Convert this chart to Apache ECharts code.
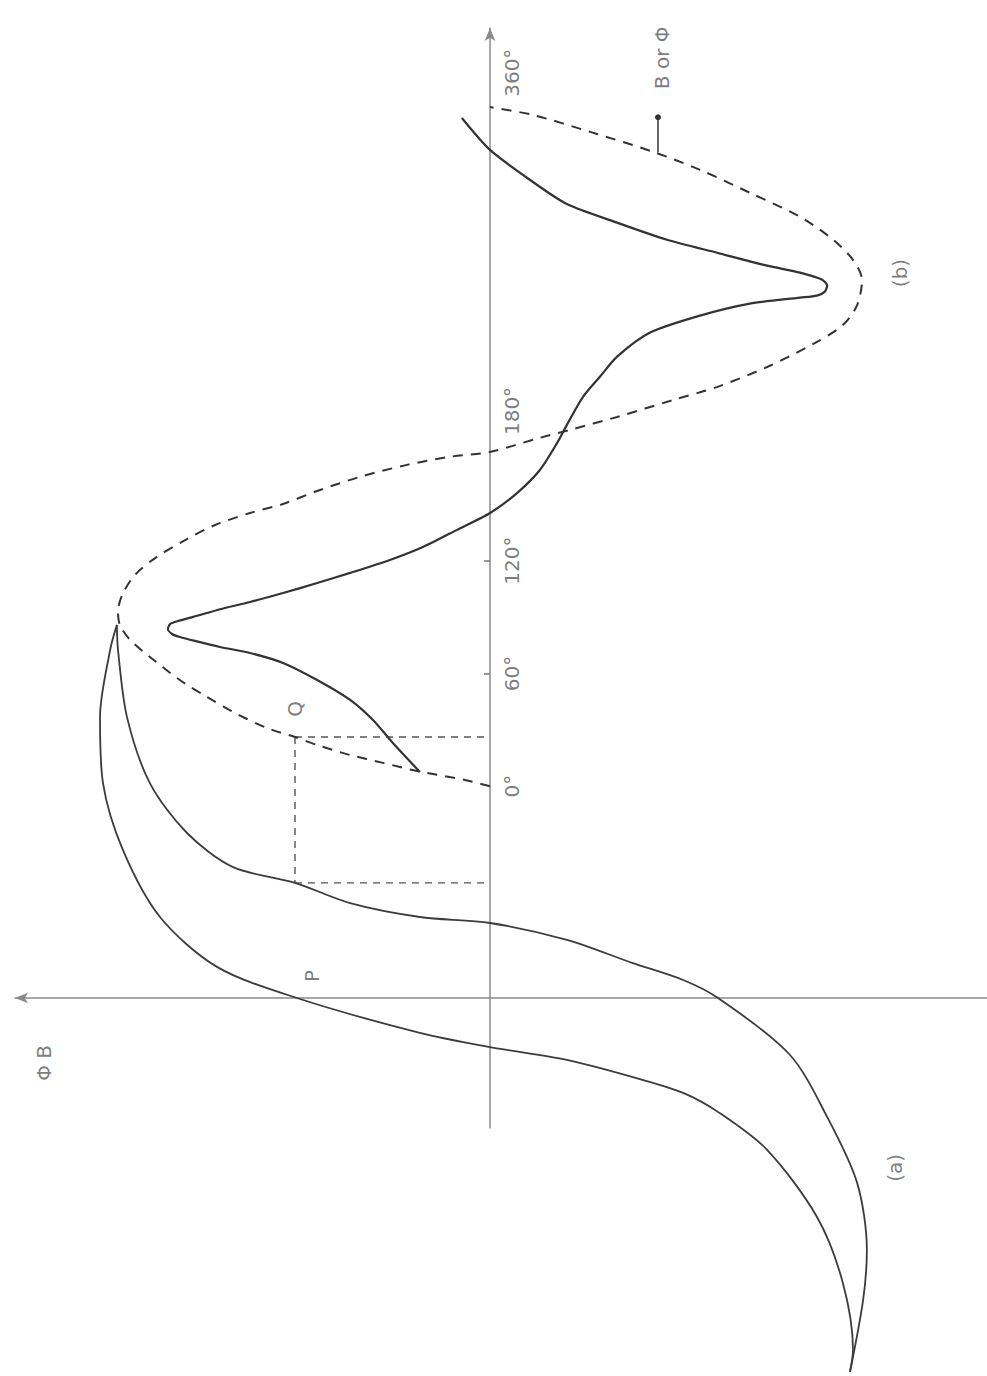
<!DOCTYPE html>
<html>
<head>
<meta charset="utf-8">
<title>Flux, magnetising current and B-H loop</title>
<script src="https://cdn.jsdelivr.net/npm/echarts@6/dist/echarts.min.js"></script>
<style>
  html, body { margin: 0; padding: 0; background: #ffffff; }
  #chart { width: 987px; height: 1376px; }
</style>
</head>
<body>
<div id="chart"></div>
<script>
// Flux density wave: [B (per unit of peak), angle θ in degrees]
const fluxWave = [
  [0, 0], [0.067, 3.3], [0.195, 8.1], [0.285, 12.4], [0.373, 16.6], [0.461, 21.9],
  [0.52, 26.2], [0.595, 31.0], [0.685, 39.5], [0.755, 47.5], [0.827, 56.5],
  [0.907, 68.8], [0.96, 77.9], [0.987, 85.8], [0.992, 92.7], [0.981, 101.7],
  [0.947, 112.4], [0.893, 121.4], [0.813, 131.0], [0.733, 139.0], [0.64, 145.4],
  [0.552, 150.2], [0.461, 157.1], [0.347, 164.6], [0.221, 171.0], [0.107, 175.3],
  [0, 177.9], [-0.133, 185.4], [-0.213, 189.6], [-0.339, 196.5], [-0.488, 205.5],
  [-0.605, 212.4], [-0.739, 223.1], [-0.867, 235.9], [-0.941, 245.4], [-0.979, 256.0],
  [-0.992, 269.5], [-0.968, 280.1], [-0.915, 290.8], [-0.827, 303.0], [-0.693, 315.8],
  [-0.56, 328.0], [-0.435, 337.6], [-0.267, 348.2], [-0.115, 357.2], [0, 361.4]
];

// Magnetising current wave (b): [i (same per-unit scale), angle θ in degrees]
const currentWave = [
  [0.187, 7.6], [0.259, 23.0], [0.312, 35.2], [0.373, 45.9], [0.461, 56.5],
  [0.552, 65.6], [0.64, 70.9], [0.72, 74.1], [0.787, 77.3], [0.827, 79.4],
  [0.848, 81.0], [0.859, 83.7], [0.853, 86.3], [0.832, 87.9], [0.773, 91.1],
  [0.707, 94.8], [0.64, 98.0], [0.552, 102.8], [0.461, 108.1], [0.373, 113.5],
  [0.267, 120.4], [0.179, 127.3], [0.088, 136.4], [0, 145.4], [-0.072, 156.0],
  [-0.133, 168.3], [-0.179, 182.7], [-0.205, 192.3], [-0.248, 207.2], [-0.293, 217.9],
  [-0.339, 228.6], [-0.427, 241.4], [-0.56, 250.4], [-0.693, 256.8], [-0.827, 260.0],
  [-0.872, 261.1], [-0.893, 263.2], [-0.899, 266.4], [-0.885, 269.6], [-0.827, 273.3],
  [-0.739, 277.0], [-0.605, 283.9], [-0.472, 290.8], [-0.339, 299.9], [-0.205, 309.8],
  [-0.107, 322.6], [0, 338.6], [0.075, 355.6]
];

// Hysteresis loop (a), falling branch through the remanence point P: [B, H]
const loopFalling = [
  [0.995, 0.995], [1.013, 0.928], [1.04, 0.749], [1.032, 0.573], [0.979, 0.395],
  [0.88, 0.216], [0.728, 0.083], [0.515, 0], [0.187, -0.093], [0, -0.131],
  [-0.205, -0.165], [-0.381, -0.211], [-0.515, -0.253], [-0.613, -0.307],
  [-0.739, -0.405], [-0.872, -0.584], [-0.941, -0.76], [-0.968, -0.939], [-0.96, -0.997]
];

// Hysteresis loop (a), rising branch: [B, H]
const loopRising = [
  [0.995, 0.995], [0.992, 0.928], [0.968, 0.749], [0.907, 0.573], [0.808, 0.44],
  [0.685, 0.349], [0.52, 0.307], [0.373, 0.253], [0.187, 0.216], [0, 0.2],
  [-0.205, 0.155], [-0.381, 0.093], [-0.515, 0.048], [-0.608, 0], [-0.8, -0.152],
  [-0.899, -0.317], [-0.979, -0.493], [-1.005, -0.672], [-0.995, -0.805], [-0.96, -0.997]
];

// Angle axis: labelled angles, short tick marks, and labels lifted clear of the wave
const angleLabels = [0, 60, 120, 180, 360];
const angleTickMarks = [60, 120];
const raisedAngleLabels = [180, 360];

// Construction: point Q on the flux wave and the matching point on the loop
const pointQ = { B: 0.52, theta: 26.2 };
const pointL = { B: 0.52, H: 0.307 };

// Leader from the "B or Φ" note down to the flux wave
const leader = { B: -0.448, thetaDot: 356.0, thetaCurve: 337.4 };

// Text notes placed in the angle (upper) frame: [B, θ, text]
const notesAngle = [
  [0.52, 41.1, 'Q'],
  [-1.093, 273.1, '(b)'],
  [-0.459, 387.6, 'B or Φ']
];
// Text notes placed in the loop (lower) frame: [B, H, text]
const notesLoop = [
  [0.475, 0.059, 'P'],
  [-1.08, -0.453, '(a)'],
  [1.189, -0.173, 'Φ B']
];

const INK = '#333333';
const AXIS = '#8a8a8a';
const TEXT = '#5a5a5a';
const FONT = 'DejaVu Sans';
const labelStyle = { fontFamily: FONT, fontSize: 20, color: TEXT };

const chart = echarts.init(document.getElementById('chart'), null, { renderer: 'svg' });

// Text turned a quarter turn; label offsets are in the rotated frame
// ([along the text, across the text]).
const textSeries = (items, yIndex) => ({
  type: 'scatter',
  xAxisIndex: 0,
  yAxisIndex: yIndex,
  clip: false,
  silent: true,
  symbol: 'circle',
  symbolSize: 1,
  itemStyle: { color: 'rgba(0,0,0,0)' },
  data: items,
  label: Object.assign({ show: true, position: 'inside', rotate: 90, formatter: '{b}' }, labelStyle)
});

const notesAsItems = notes => notes.map(d => ({ value: [d[0], d[1]], name: d[2] }));
const angleLabelItems = angleLabels.map(v => ({
  value: [0, v],
  name: v + '°',
  label: { offset: raisedAngleLabels.includes(v) ? [37, 22] : [0, 22] }
}));

chart.setOption({
  animation: false,
  backgroundColor: '#ffffff',
  grid: { left: 15, right: 0, top: 28, bottom: 248, containLabel: false, outerBoundsMode: 'none' },
  xAxis: {
    type: 'value',
    inverse: true,
    min: -1.32533,
    max: 1.26667,
    axisLine: {
      onZero: true,
      onZeroAxisIndex: 1,
      symbol: ['arrow', 'none'],
      symbolSize: [8, 13],
      lineStyle: { color: AXIS, width: 1.5 }
    },
    axisTick: { show: false },
    axisLabel: { show: false },
    splitLine: { show: false }
  },
  yAxis: [
    {
      type: 'value',
      position: 'right',
      min: -181.9,
      max: 403.49,
      axisLine: {
        onZero: true,
        symbol: ['none', 'arrow'],
        symbolSize: [8, 13],
        lineStyle: { color: AXIS, width: 1.5 }
      },
      axisTick: {
        show: true,
        inside: true,
        length: 6,
        customValues: angleTickMarks,
        lineStyle: { color: '#777', width: 1.5 }
      },
      axisLabel: { show: false },
      splitLine: { show: false }
    },
    {
      type: 'value',
      show: false,
      min: -0.34667,
      max: 2.58667,
      splitLine: { show: false }
    }
  ],
  series: [
    {
      name: 'B',
      type: 'line',
      xAxisIndex: 0,
      yAxisIndex: 0,
      data: fluxWave,
      smooth: 0.3,
      symbol: 'none',
      lineStyle: { color: INK, width: 2, type: [10, 8] },
      markLine: {
        silent: true,
        label: { show: false },
        lineStyle: { color: INK, width: 1.5, type: 'solid' },
        data: [[
          { coord: [leader.B, leader.thetaDot], symbol: 'circle', symbolSize: 6 },
          { coord: [leader.B, leader.thetaCurve], symbol: 'none' }
        ]]
      }
    },
    {
      name: 'i',
      type: 'line',
      xAxisIndex: 0,
      yAxisIndex: 0,
      data: currentWave,
      smooth: 0.25,
      symbol: 'none',
      lineStyle: { color: INK, width: 2.2 }
    },
    {
      name: 'loop falling',
      type: 'line',
      xAxisIndex: 0,
      yAxisIndex: 1,
      clip: false,
      data: loopFalling,
      smooth: 0.3,
      symbol: 'none',
      lineStyle: { color: '#3c3c3c', width: 1.8 }
    },
    {
      name: 'loop rising',
      type: 'line',
      xAxisIndex: 0,
      yAxisIndex: 1,
      clip: false,
      data: loopRising,
      smooth: 0.3,
      symbol: 'none',
      lineStyle: { color: '#3c3c3c', width: 1.8 }
    },
    textSeries(notesAsItems(notesAngle), 0),
    textSeries(notesAsItems(notesLoop), 1),
    textSeries(angleLabelItems, 0)
  ]
});

// Dashed construction lines: Q across to the angle axis, Q down to the loop,
// and the loop point across to the current axis.
const q = chart.convertToPixel({ seriesIndex: 0 }, [pointQ.B, pointQ.theta]);
const qAxis = chart.convertToPixel({ seriesIndex: 0 }, [0, pointQ.theta]);
const l = chart.convertToPixel({ seriesIndex: 2 }, [pointL.B, pointL.H]);
const lAxis = chart.convertToPixel({ seriesIndex: 2 }, [0, pointL.H]);
const dashStyle = { stroke: '#555', lineWidth: 1.4, lineDash: [7, 6], fill: null };
chart.setOption({
  graphic: [
    { type: 'line', silent: true, shape: { x1: q[0], y1: q[1], x2: qAxis[0], y2: qAxis[1] }, style: dashStyle },
    { type: 'line', silent: true, shape: { x1: q[0], y1: q[1], x2: l[0], y2: l[1] }, style: dashStyle },
    { type: 'line', silent: true, shape: { x1: l[0], y1: l[1], x2: lAxis[0], y2: lAxis[1] }, style: dashStyle }
  ]
});
</script>
</body>
</html>
